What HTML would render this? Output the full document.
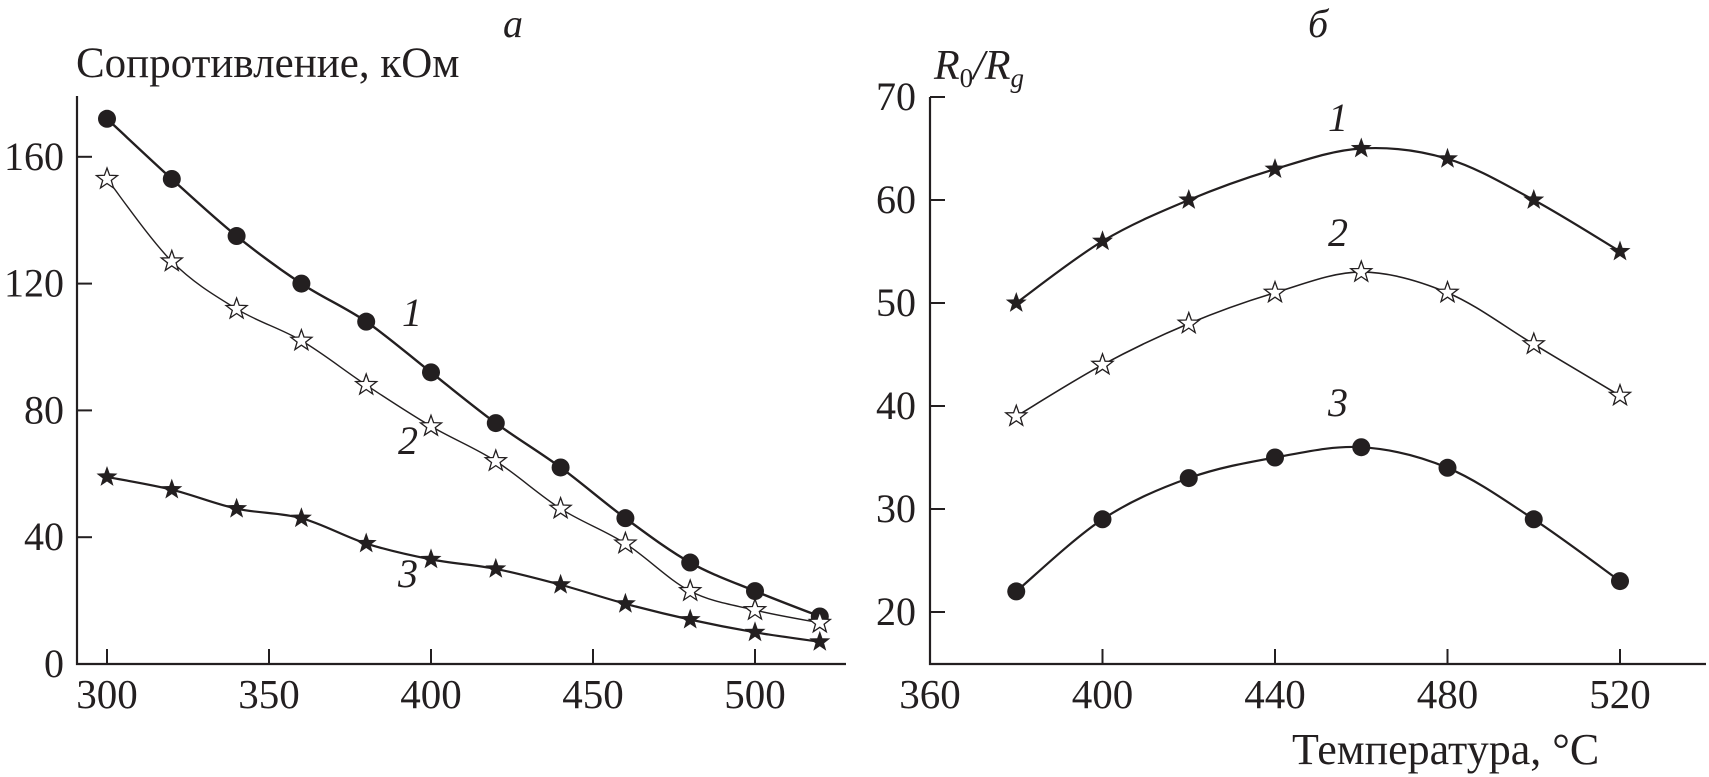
<!DOCTYPE html>
<html><head><meta charset="utf-8">
<style>
html,body{margin:0;padding:0;background:#fff;}
svg{display:block;}
text{font-family:"Liberation Serif","DejaVu Serif",serif;fill:#231f20;}
</style></head>
<body>
<svg id="chart" width="1709" height="777" viewBox="0 0 1709 777" xmlns="http://www.w3.org/2000/svg"></svg>
<script>
const leftTemps=[300,320,340,360,380,400,420,440,460,480,500,520];
const leftS1=[172,153,135,120,108,92,76,62,46,32,23,15];
const leftS2=[153,127,112,102,88,75,64,49,38,23,17,13];
const leftS3=[59,55,49,46,38,33,30,25,19,14,10,7];
const leftXTicks=[300,350,400,450,500];
const leftYTicks=[0,40,80,120,160];
const rightTemps=[380,400,420,440,460,480,500,520];
const rightS1=[50,56,60,63,65,64,60,55];
const rightS2=[39,44,48,51,53,51,46,41];
const rightS3=[22,29,33,35,36,34,29,23];
const rightXTicks=[360,400,440,480,520];
const rightYTicks=[20,30,40,50,60,70];

const svg=document.getElementById('chart');
const NS='http://www.w3.org/2000/svg';
function el(tag,attrs,parent){const e=document.createElementNS(NS,tag);for(const k in attrs)e.setAttribute(k,attrs[k]);(parent||svg).appendChild(e);return e;}

const lx=v=>107+(v-300)*162/50;
const ly=v=>664-v*126.8/40;
const rx=v=>930+(v-360)*172.5/40;
const ry=v=>612-(v-20)*103/10;

function smoothPath(pts){
  let d='M'+pts[0][0]+','+pts[0][1];
  for(let i=0;i<pts.length-1;i++){
    const p0=pts[Math.max(0,i-1)],p1=pts[i],p2=pts[i+1],p3=pts[Math.min(pts.length-1,i+2)];
    const c1x=p1[0]+(p2[0]-p0[0])/6,c1y=p1[1]+(p2[1]-p0[1])/6;
    const c2x=p2[0]-(p3[0]-p1[0])/6,c2y=p2[1]-(p3[1]-p1[1])/6;
    d+=' C'+c1x+','+c1y+' '+c2x+','+c2y+' '+p2[0]+','+p2[1];
  }
  return d;
}
function starPts(cx,cy,R,r){
  let s=[];
  for(let i=0;i<10;i++){const a=-Math.PI/2+i*Math.PI/5;const rr=i%2?r:R;s.push((cx+rr*Math.cos(a)).toFixed(1)+','+(cy+rr*Math.sin(a)).toFixed(1));}
  return s.join(' ');
}
function series(xs,ys,fx,fy,marker,width,name){
  const g=el('g',{});
  
  
  const pts=xs.map((x,i)=>[fx(x),fy(ys[i])]);
  const p=el('path',{d:smoothPath(pts),fill:'none',stroke:'#231f20','stroke-width':width},g);
  
  
  pts.forEach(([x,y])=>{
    let m;
    if(marker==='circle') m=el('circle',{cx:x,cy:y,r:9,fill:'#231f20'},g);
    else if(marker==='star') m=el('polygon',{points:starPts(x,y,11,4.5),fill:'#231f20'},g);
    else m=el('polygon',{points:starPts(x,y,11,4.5),fill:'#fff',stroke:'#231f20','stroke-width':1.3},g);
    
    
  });
}
function txt(x,y,s,attrs,name){
  const t=el('text',Object.assign({x:x,y:y},attrs||{}));
  t.textContent=s;
  
  
  return t;
}

// ---- left panel ----
const la=el('path',{d:'M77,96 L77,664 L846,664',fill:'none',stroke:'#231f20','stroke-width':2.2});


leftXTicks.forEach(v=>{
  const t=el('line',{x1:lx(v),x2:lx(v),y1:664,y2:649,stroke:'#231f20','stroke-width':2});
  
  
  txt(lx(v),708,String(v),{'font-size':41,'text-anchor':'middle'},'left-x-tick-label');
});
leftYTicks.forEach(v=>{
  const t=el('line',{x1:77,x2:92,y1:ly(v),y2:ly(v),stroke:'#231f20','stroke-width':2});
  
  
  txt(64,ly(v)+13,String(v),{'font-size':40,'text-anchor':'end'},'left-y-tick-label');
});
txt(76,77,'Сопротивление, кОм',{'font-size':43},'left-y-axis-title');
txt(503,37,'а',{'font-size':40,'font-style':'italic'},'panel-a-label');
series(leftTemps,leftS1,lx,ly,'circle',2.4,'left-series-1');
series(leftTemps,leftS2,lx,ly,'hollow',1.4,'left-series-2');
series(leftTemps,leftS3,lx,ly,'star',2.2,'left-series-3');
txt(402,326,'1',{'font-size':40,'font-style':'italic'},'left-curve-label-1');
txt(398,454,'2',{'font-size':40,'font-style':'italic'},'left-curve-label-2');
txt(398,587,'3',{'font-size':40,'font-style':'italic'},'left-curve-label-3');

// ---- right panel ----
const ra=el('path',{d:'M930,97 L930,664 L1706,664',fill:'none',stroke:'#231f20','stroke-width':2.2});


rightXTicks.forEach(v=>{
  if(v!==360){
    const t=el('line',{x1:rx(v),x2:rx(v),y1:664,y2:649,stroke:'#231f20','stroke-width':2});
    
    
  }
  txt(rx(v),708,String(v),{'font-size':41,'text-anchor':'middle'},'right-x-tick-label');
});
rightYTicks.forEach(v=>{
  const t=el('line',{x1:930,x2:945,y1:ry(v),y2:ry(v),stroke:'#231f20','stroke-width':2});
  
  
  txt(916,ry(v)+13,String(v),{'font-size':40,'text-anchor':'end'},'right-y-tick-label');
});
const rt=txt(934,79,'',{'font-size':42,'font-style':'italic'},'right-y-axis-title');
rt.innerHTML='R<tspan font-size="27" font-style="normal" dy="8">0</tspan><tspan dy="-8">/R</tspan><tspan font-size="27" dy="8">g</tspan>';
txt(1308,37,'б',{'font-size':40,'font-style':'italic'},'panel-b-label');
txt(1292,764,'Температура, °C',{'font-size':44},'x-axis-title');
series(rightTemps,rightS1,rx,ry,'star',2.2,'right-series-1');
series(rightTemps,rightS2,rx,ry,'hollow',1.6,'right-series-2');
series(rightTemps,rightS3,rx,ry,'circle',2.2,'right-series-3');
txt(1328,131,'1',{'font-size':40,'font-style':'italic'},'right-curve-label-1');
txt(1328,246,'2',{'font-size':40,'font-style':'italic'},'right-curve-label-2');
txt(1328,416,'3',{'font-size':40,'font-style':'italic'},'right-curve-label-3');
</script>
</body></html>
